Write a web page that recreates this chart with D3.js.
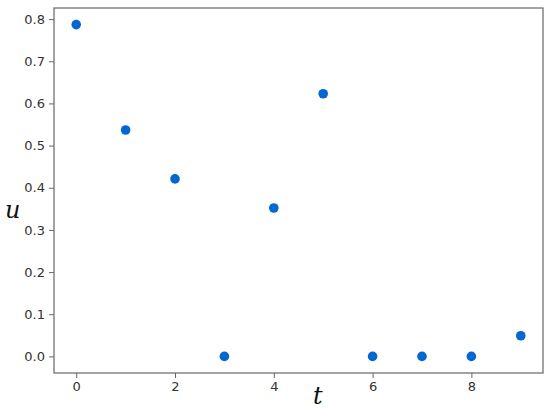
<!DOCTYPE html>
<html><head><meta charset="utf-8">
<script src="https://cdn.jsdelivr.net/npm/d3@7"></script>
<style>body{margin:0;background:#fff}svg{display:block}</style>
</head><body>
<svg id="c" width="550" height="411"></svg>
<script>
const tValues = [0,1,2,3,4,5,6,7,8,9];
const uValues = [0.787,0.537,0.421,0.0,0.352,0.623,0.0,0.0,0.0,0.049];
const xTicks = [0,2,4,6,8];
const yTicks = [0.0,0.1,0.2,0.3,0.4,0.5,0.6,0.7,0.8];

const svg = d3.select("#c");
const L = 54, R = 543, T = 8, B = 373;
const x = d3.scaleLinear().domain([-0.45, 9.45]).range([L, R]);
const y = d3.scaleLinear().domain([-0.03935, 0.82635]).range([B, T]);
const axisColor = "#666";
const textColor = "#333";

svg.append("rect").attr("x", L).attr("y", T).attr("width", R-L).attr("height", B-T)
  .attr("fill", "none").attr("stroke", axisColor).attr("stroke-width", 1.2);

const xa = svg.append("g").attr("transform", `translate(0,${B})`)
  .call(d3.axisBottom(x).tickValues(xTicks).tickFormat(d3.format("d")).tickSize(5).tickPadding(4));
const ya = svg.append("g").attr("transform", `translate(${L},0)`)
  .call(d3.axisLeft(y).tickValues(yTicks).tickFormat(d3.format(".1f")).tickSize(5).tickPadding(4));
[xa, ya].forEach(a => {
  a.select(".domain").remove();
  a.selectAll("line").attr("stroke", axisColor).attr("stroke-width", 1);
  a.selectAll("text").attr("fill", textColor).style("font-family", "DejaVu Sans").style("font-size", "13px");
});

svg.append("g").selectAll("circle").data(tValues).join("circle")
  .attr("cx", (d) => x(d)).attr("cy", (d, i) => y(uValues[i])).attr("r", 4.8)
  .attr("fill", "#0068d0");

svg.append("text").attr("x", 5).attr("y", 218).text("u")
  .style("font-family", "DejaVu Serif").style("font-style", "italic").style("font-size", "24px").attr("fill", "#111");
svg.append("text").attr("x", 313).attr("y", 404).text("t")
  .style("font-family", "DejaVu Serif").style("font-style", "italic").style("font-size", "24px").attr("fill", "#111");
</script>
</body></html>
